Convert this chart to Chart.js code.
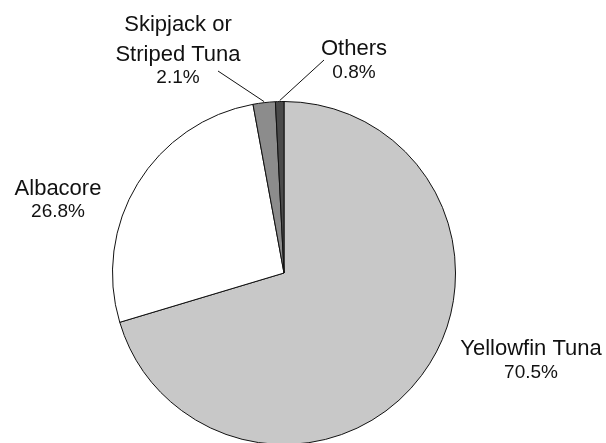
<!DOCTYPE html>
<html>
<head>
<meta charset="utf-8">
<script src="https://cdn.jsdelivr.net/npm/chart.js@4/dist/chart.umd.min.js"></script>
<style>
  html, body { margin: 0; padding: 0; background: #fff; overflow: hidden; }
  #wrap { position: absolute; left: 0; top: 0; width: 606px; height: 452px; }
</style>
</head>
<body>
<div id="wrap"><canvas id="myChart"></canvas></div>
<script>
// catch shares, clockwise from 12 o'clock
const species = ['Yellowfin Tuna', 'Albacore', 'Skipjack or Striped Tuna', 'Others'];
const shares = [70.5, 26.8, 2.1, 0.8];
const shareLabels = ['70.5%', '26.8%', '2.1%', '0.8%'];

const sliceColors = ['#c8c8c8', '#ffffff', '#8c8c8c', '#4a4a4a'];

// where each label sits (name lines, then percent), plus leader line start if any
const labelSpots = [
  { x: 531, lines: ['Yellowfin Tuna'], y: 355, py: 378 },
  { x: 58, lines: ['Albacore'], y: 195, py: 217 },
  { x: 178, lines: ['Skipjack or', 'Striped Tuna'], y: 31, py: 83, lead: [218, 71] },
  { x: 354, lines: ['Others'], y: 55, py: 78, lead: [324, 60] }
];

const outsideLabels = {
  id: 'outsideLabels',
  afterDraw(chart) {
    const c = chart.ctx;
    const arcs = chart.getDatasetMeta(0).data;
    c.save();
    c.fillStyle = '#111';
    c.textAlign = 'center';
    c.textBaseline = 'alphabetic';
    labelSpots.forEach(function (s, i) {
      c.font = '22px "Liberation Sans", Arial, sans-serif';
      s.lines.forEach(function (t, k) {
        c.fillText(t, s.x, s.y + k * 30);
      });
      c.font = '19px "Liberation Sans", Arial, sans-serif';
      c.fillText(shareLabels[i], s.x, s.py);
      if (s.lead) {
        const a = arcs[i];
        const mid = (a.startAngle + a.endAngle) / 2;
        c.beginPath();
        c.strokeStyle = '#111';
        c.lineWidth = 1;
        c.moveTo(s.lead[0], s.lead[1]);
        c.lineTo(a.x + a.outerRadius * Math.cos(mid), a.y + a.outerRadius * Math.sin(mid) - 1);
        c.stroke();
      }
    });
    c.restore();
  }
};

const ctx = document.getElementById('myChart').getContext('2d');
const myChart = new Chart(ctx, {
  type: 'pie',
  data: {
    labels: species,
    datasets: [{
      data: shares,
      backgroundColor: sliceColors,
      borderColor: '#111',
      borderWidth: 1
    }]
  },
  options: {
    responsive: true,
    maintainAspectRatio: false,
    animation: false,
    layout: { padding: { left: 112, right: 150, top: 101, bottom: 7 } },
    plugins: {
      legend: { display: false },
      tooltip: { enabled: false }
    }
  },
  plugins: [outsideLabels]
});
</script>
</body>
</html>
